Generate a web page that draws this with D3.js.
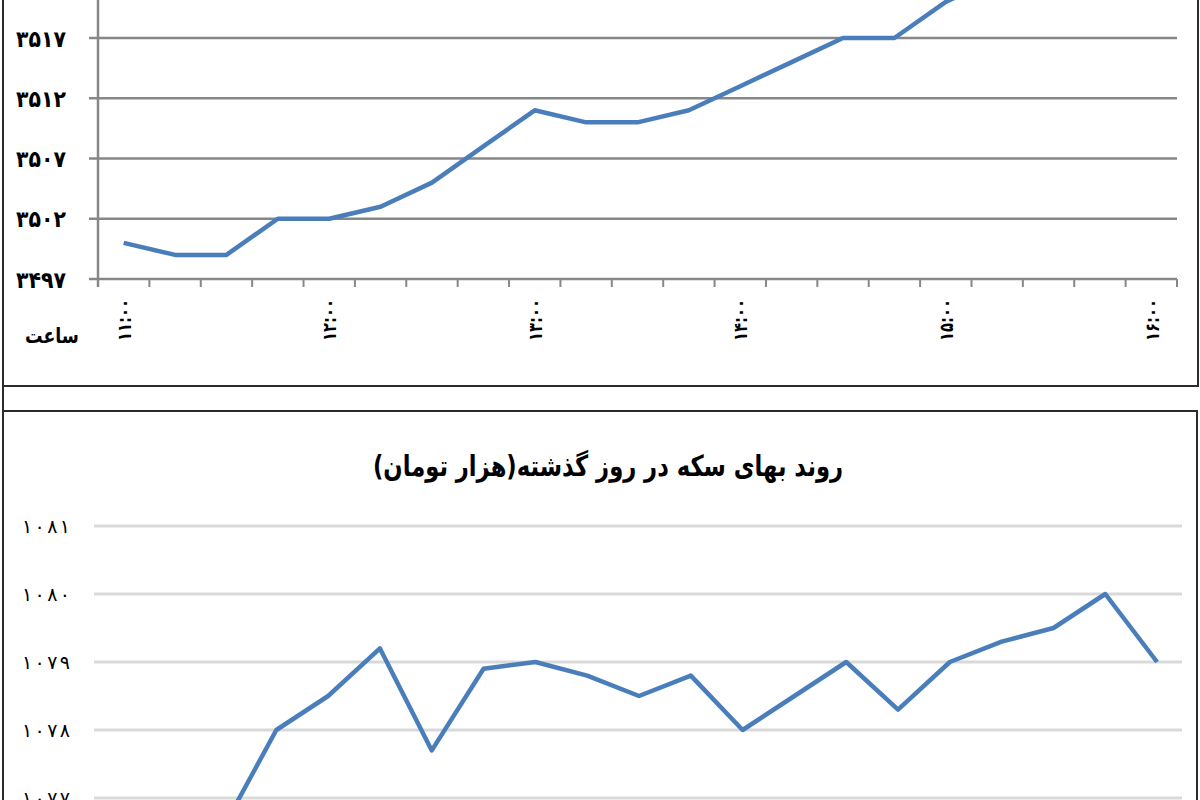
<!DOCTYPE html>
<html>
<head>
<meta charset="utf-8">
<script src="https://cdn.jsdelivr.net/npm/d3@7"></script>
<style>
  body { margin: 0; background: #fff; }
  svg { display: block; }
  text { font-family: "DejaVu Sans", sans-serif; fill: #000; }
</style>
</head>
<body>
<svg id="chart" width="1200" height="800"></svg>
<script>
// 15 minute steps from 11:00 to 16:00
const times = [
  '11:00', '11:15', '11:30', '11:45', '12:00', '12:15', '12:30',
  '12:45', '13:00', '13:15', '13:30', '13:45', '14:00', '14:15',
  '14:30', '14:45', '15:00', '15:15', '15:30', '15:45', '16:00'
]
const rateValues = [
  3500, 3499, 3499, 3502, 3502, 3503, 3505, 3508, 3511, 3510, 3510,
  3511, 3513, 3515, 3517, 3517, 3520, 3522, 3523, 3524, 3525
]
const rateTicks = [3497, 3502, 3507, 3512, 3517]

const coinTitle = 'روند بهای سکه در روز گذشته(هزار تومان)'
const coinValues = [
  1076.2, 1076.4, 1076.6, 1078, 1078.5, 1079.2, 1077.7, 1078.9, 1079,
  1078.8, 1078.5, 1078.8, 1078, 1078.5, 1079, 1078.3, 1079, 1079.3,
  1079.5, 1080, 1079
]
const coinTicks = [1077, 1078, 1079, 1080, 1081]

const faDigits = '۰۱۲۳۴۵۶۷۸۹'
const toFa = s => String(s).replace(/\d/g, d => faDigits[d])

const svg = d3.select('#chart')

// panel frames
svg.append('path')
  .attr('d', 'M3,0 V800 M3,386 H1198 V0 M3,411 H1197 V800')
  .attr('fill', 'none')
  .attr('stroke', '#2b2b2b')
  .attr('stroke-width', 2)

// ---- top chart ----
var gTop = svg.append('g')

var xTop = d3.scaleBand()
  .domain(d3.range(times.length))
  .range([98, 1177])

var yTop = d3.scaleLinear()
  .domain([3497, 3517])
  .range([279, 38])

gTop.selectAll('.grid')
  .data(rateTicks)
  .enter()
  .append('line')
  .attr('x1', 89)
  .attr('x2', 1177)
  .attr('y1', d => yTop(d))
  .attr('y2', d => yTop(d))
  .style('stroke', '#878787')
  .style('stroke-width', 2.5)

// y axis line
gTop.append('line')
  .attr('x1', 98).attr('x2', 98)
  .attr('y1', 0).attr('y2', 287)
  .style('stroke', '#878787')
  .style('stroke-width', 2.5)

// x ticks on category boundaries
gTop.selectAll('.xtick')
  .data(d3.range(times.length + 1))
  .enter()
  .append('line')
  .attr('x1', i => xTop.range()[0] + i * xTop.step())
  .attr('x2', i => xTop.range()[0] + i * xTop.step())
  .attr('y1', 279)
  .attr('y2', 287)
  .style('stroke', '#878787')
  .style('stroke-width', 2)

gTop.selectAll('.ylabel')
  .data(rateTicks)
  .enter()
  .append('text')
  .attr('x', 66)
  .attr('y', d => yTop(d))
  .attr('dy', '0.38em')
  .attr('textLength', 50)
  .attr('lengthAdjust', 'spacingAndGlyphs')
  .style('text-anchor', 'end')
  .style('font-size', '23px')
  .style('font-weight', 'bold')
  .text(d => toFa(d))

gTop.selectAll('.xlabel')
  .data(d3.range(times.length).filter(i => i % 4 === 0))
  .enter()
  .append('text')
  .attr('transform', i =>
    'translate(' + (xTop(i) + xTop.bandwidth() / 2) + ',341) rotate(-90)')
  .attr('dy', '0.38em')
  .attr('textLength', 42)
  .attr('lengthAdjust', 'spacingAndGlyphs')
  .style('text-anchor', 'start')
  .style('font-size', '19px')
  .style('font-weight', 'bold')
  .text(i => toFa(times[i]))

gTop.append('text')
  .attr('x', 52)
  .attr('y', 343)
  .attr('textLength', 54)
  .attr('lengthAdjust', 'spacingAndGlyphs')
  .style('text-anchor', 'middle')
  .style('font-size', '21px')
  .style('font-weight', 'bold')
  .text('ساعت')

var rateLine = d3.line()
  .x((d, i) => xTop(i) + xTop.bandwidth() / 2)
  .y(d => yTop(d))

gTop.append('path')
  .datum(rateValues)
  .attr('d', rateLine)
  .attr('fill', 'none')
  .style('stroke', '#4a7ebb')
  .style('stroke-width', 4.5)
  .style('stroke-linejoin', 'round')

// ---- bottom chart ----
var gBot = svg.append('g')

var xBot = d3.scaleBand()
  .domain(d3.range(coinValues.length))
  .range([95, 1183])

var yBot = d3.scaleLinear()
  .domain([1077, 1081])
  .range([798, 526])

gBot.append('text')
  .attr('x', 608)
  .attr('y', 476)
  .attr('direction', 'rtl')
  .attr('textLength', 470)
  .attr('lengthAdjust', 'spacingAndGlyphs')
  .style('text-anchor', 'middle')
  .style('font-size', '29px')
  .style('font-weight', 'bold')
  .text(coinTitle)

gBot.selectAll('.grid')
  .data(coinTicks)
  .enter()
  .append('line')
  .attr('x1', 94)
  .attr('x2', 1182)
  .attr('y1', d => yBot(d))
  .attr('y2', d => yBot(d))
  .style('stroke', '#d9d9d9')
  .style('stroke-width', 3)

gBot.selectAll('.ylabel')
  .data(coinTicks)
  .enter()
  .append('text')
  .attr('x', 70)
  .attr('y', d => yBot(d))
  .attr('dy', '0.38em')
  .attr('textLength', 48)
  .attr('lengthAdjust', 'spacing')
  .style('text-anchor', 'end')
  .style('font-size', '19px')
  .text(d => toFa(d))

var coinLine = d3.line()
  .x((d, i) => xBot(i) + xBot.bandwidth() / 2)
  .y(d => yBot(d))

gBot.append('path')
  .datum(coinValues)
  .attr('d', coinLine)
  .attr('fill', 'none')
  .style('stroke', '#4a7ebb')
  .style('stroke-width', 4.5)
  .style('stroke-linejoin', 'round')
</script>
</body>
</html>
